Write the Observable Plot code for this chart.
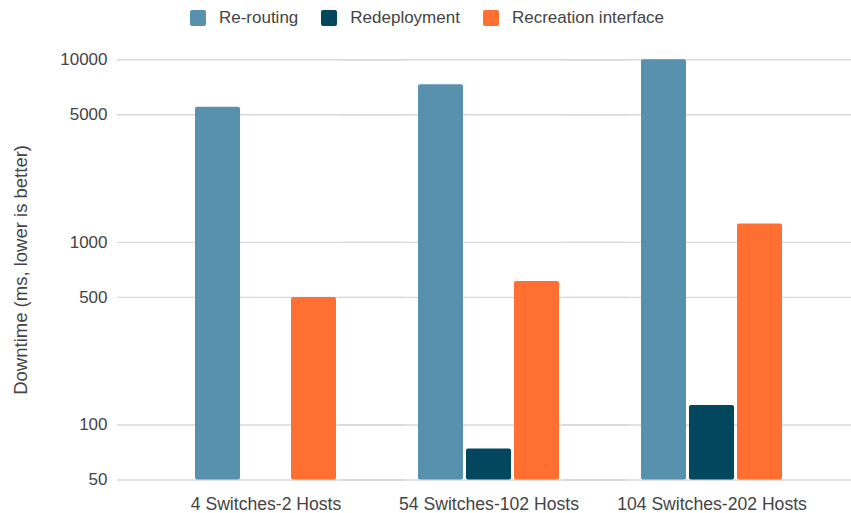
<!DOCTYPE html>
<html>
<head>
<meta charset="utf-8">
<script src="https://cdn.jsdelivr.net/npm/d3@7"></script>
<script src="https://cdn.jsdelivr.net/npm/@observablehq/plot@0.6"></script>
<style>
  body { margin: 0; background: #fff; font-family: "Liberation Sans", Arial, sans-serif; }
  #legend { height: 34px; box-sizing: border-box; padding: 2px 0 0 3px; display: flex; justify-content: center; align-items: center; color: #444; font-size: 17px; }
  .item { display: flex; align-items: center; margin: 0 11.5px; }
  .swatch { width: 16px; height: 16px; border-radius: 2px; margin-right: 13px; }
</style>
</head>
<body>
<div id="legend"></div>
<div id="chart"></div>
<script>
// Network topologies compared
const groups = ["4 Switches-2 Hosts", "54 Switches-102 Hosts", "104 Switches-202 Hosts"];
// Recovery strategies
const series = ["Re-routing", "Redeployment", "Recreation interface"];
// Downtime in ms per strategy, one value per topology (null = no bar)
const reRouting = [5500, 7300, 10000];
const redeployment = [null, 74, 128];
const recreation = [500, 610, 1260];
const colors = ["#5891ae", "#03475f", "#ff6f31"];
const yTicks = [50, 100, 500, 1000, 5000, 10000];
const yLabel = "Downtime (ms, lower is better)";

const rows = [];
groups.forEach((g, i) => {
  [reRouting, redeployment, recreation].forEach((vals, j) => {
    if (vals[i] != null) rows.push({group: g, series: series[j], value: vals[i]});
  });
});

// Legend
const legend = document.getElementById("legend");
series.forEach((s, j) => {
  const item = document.createElement("div");
  item.className = "item";
  const sw = document.createElement("div");
  sw.className = "swatch";
  sw.style.background = colors[j];
  const label = document.createElement("span");
  label.textContent = s;
  item.append(sw, label);
  legend.append(item);
});

const chart = Plot.plot({
  width: 851,
  height: 479,
  marginTop: 25.3,
  marginBottom: 33.5,
  marginLeft: 154,
  marginRight: 28,
  style: {fontFamily: "'Liberation Sans', Arial, sans-serif", fontSize: "17px", color: "#444", background: "#fff"},
  fx: {domain: groups, paddingInner: 0, paddingOuter: 0, label: null},
  x: {domain: series, paddingInner: 0.072, paddingOuter: 0.835, axis: null},
  y: {type: "log", domain: [yTicks[0], yTicks[yTicks.length - 1]]},
  color: {domain: series, range: colors},
  marks: [
    Plot.ruleY(yTicks, {stroke: "#d9d9d9", strokeWidth: 1.4, insetLeft: -37, insetRight: -28}),
    Plot.barY(rows, {fx: "group", x: "series", y1: yTicks[0], y2: "value", fill: "series", rx: 2}),
    Plot.axisY(yTicks, {tickSize: 0, tickPadding: 47, tickFormat: d => String(d), fontSize: 17, label: null}),
    Plot.axisY([], {
      tickSize: 0, fontSize: 18.5, dy: 9,
      label: yLabel, labelAnchor: "center", labelArrow: "none", labelOffset: 140.5
    }),
    Plot.axisFx({anchor: "bottom", tickSize: 0, tickPadding: 17, label: null, fontSize: 17.6})
  ]
});
document.getElementById("chart").append(chart);
</script>
</body>
</html>
